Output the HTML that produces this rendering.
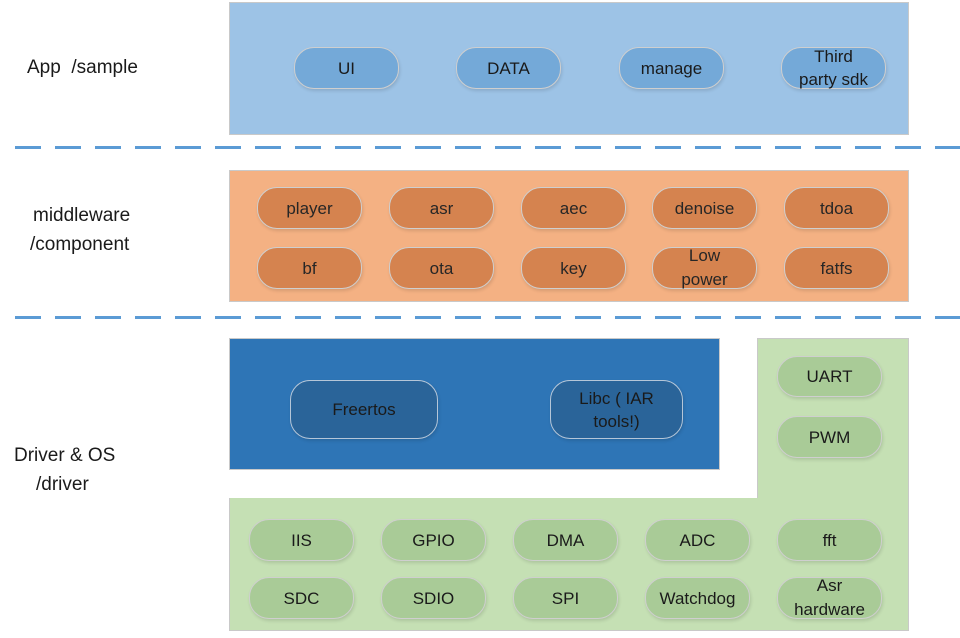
<!DOCTYPE html>
<html><head><meta charset="utf-8"><style>
body{margin:0;width:960px;height:638px;background:#fff;position:relative;overflow:hidden;font-family:"Liberation Sans",sans-serif;}
.b{position:absolute;box-sizing:border-box;border:1px solid #c9c9c9;}
.p{position:absolute;box-sizing:border-box;border:1px solid #cfcfcf;border-radius:20px;display:flex;align-items:center;justify-content:center;text-align:center;font-size:17px;line-height:19px;color:#1a1a1a;box-shadow:1px 2px 3px rgba(0,0,0,0.12);}
.a{background:#74a9d8;}
.o{background:#d5834f;color:#262626;}
.g{background:#a9cb97;}
.d{background:#2a6499;border-color:#b5c6d8;}
.l{position:absolute;font-size:19px;color:#1a1a1a;white-space:pre;}
.dash{position:absolute;left:15px;width:945px;height:3px;background:repeating-linear-gradient(90deg,#5b9bd5 0 26px,transparent 26px 40px);}
</style></head><body>
<div class="b" style="left:229px;top:2px;width:680px;height:133px;background:#9dc3e6"></div>
<div class="p a" style="left:294px;top:47px;width:105px;height:42px">UI</div>
<div class="p a" style="left:456px;top:47px;width:105px;height:42px">DATA</div>
<div class="p a" style="left:619px;top:47px;width:105px;height:42px">manage</div>
<div class="p a" style="left:781px;top:47px;width:105px;height:42px;line-height:23px">Third<br>party sdk</div>
<div class="dash" style="top:146px"></div>

<div class="b" style="left:229px;top:170px;width:680px;height:132px;background:#f4b183"></div>
<div class="p o" style="left:257px;top:187px;width:105px;height:42px">player</div>
<div class="p o" style="left:389px;top:187px;width:105px;height:42px">asr</div>
<div class="p o" style="left:521px;top:187px;width:105px;height:42px">aec</div>
<div class="p o" style="left:652px;top:187px;width:105px;height:42px">denoise</div>
<div class="p o" style="left:784px;top:187px;width:105px;height:42px">tdoa</div>
<div class="p o" style="left:257px;top:247px;width:105px;height:42px">bf</div>
<div class="p o" style="left:389px;top:247px;width:105px;height:42px">ota</div>
<div class="p o" style="left:521px;top:247px;width:105px;height:42px">key</div>
<div class="p o" style="left:652px;top:247px;width:105px;height:42px;line-height:24px">Low<br>power</div>
<div class="p o" style="left:784px;top:247px;width:105px;height:42px">fatfs</div>
<div class="dash" style="top:316px"></div>

<div class="b" style="left:229px;top:338px;width:491px;height:132px;background:#2e75b6"></div>
<div class="p d" style="left:290px;top:380px;width:148px;height:59px">Freertos</div>
<div class="p d" style="left:550px;top:380px;width:133px;height:59px;line-height:23px">Libc ( IAR<br>tools!)</div>
<div class="b" style="left:757px;top:338px;width:152px;height:161px;background:#c5e0b4"></div>
<div class="p g" style="left:777px;top:356px;width:105px;height:41px">UART</div>
<div class="p g" style="left:777px;top:416px;width:105px;height:42px">PWM</div>
<div class="b" style="left:229px;top:498px;width:680px;height:133px;background:#c5e0b4;border-top:none"></div>
<div class="p g" style="left:249px;top:519px;width:105px;height:42px">IIS</div>
<div class="p g" style="left:381px;top:519px;width:105px;height:42px">GPIO</div>
<div class="p g" style="left:513px;top:519px;width:105px;height:42px">DMA</div>
<div class="p g" style="left:645px;top:519px;width:105px;height:42px">ADC</div>
<div class="p g" style="left:777px;top:519px;width:105px;height:42px">fft</div>
<div class="p g" style="left:249px;top:577px;width:105px;height:42px">SDC</div>
<div class="p g" style="left:381px;top:577px;width:105px;height:42px">SDIO</div>
<div class="p g" style="left:513px;top:577px;width:105px;height:42px">SPI</div>
<div class="p g" style="left:645px;top:577px;width:105px;height:42px">Watchdog</div>
<div class="p g" style="left:777px;top:577px;width:105px;height:42px;line-height:24px">Asr<br>hardware</div>

<div class="l" style="left:27px;top:57px">App  /sample</div>
<div class="l" style="left:33px;top:205px">middleware</div>
<div class="l" style="left:30px;top:234px">/component</div>
<div class="l" style="left:14px;top:445px">Driver &amp; OS</div>
<div class="l" style="left:36px;top:474px">/driver</div>
</body></html>
